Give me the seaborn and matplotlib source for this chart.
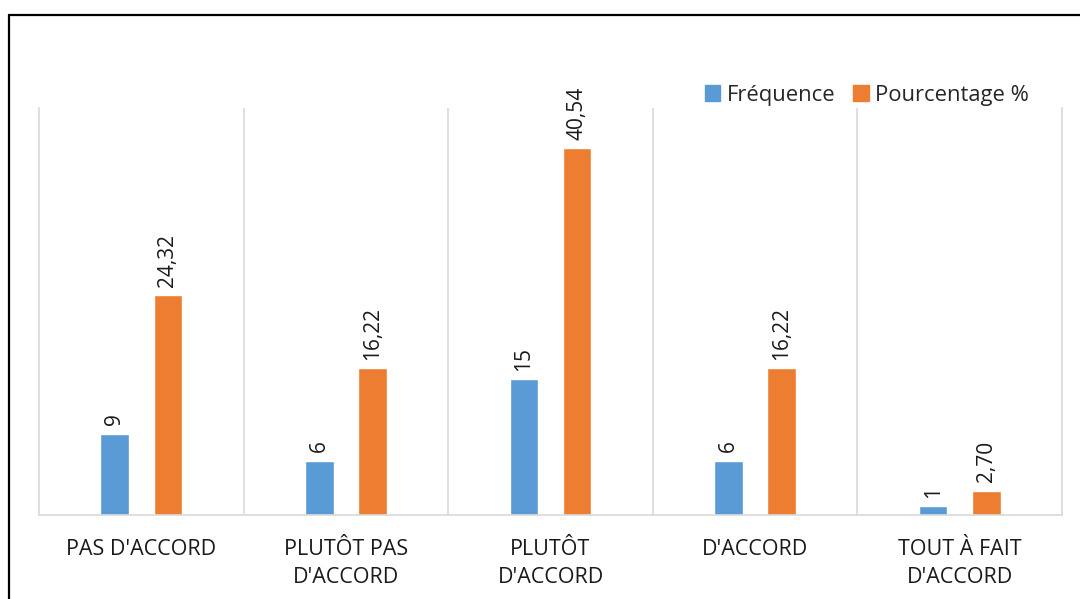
import matplotlib

matplotlib.use("Agg")
import matplotlib.pyplot as plt
import pandas as pd
import seaborn as sns
from matplotlib.lines import Line2D

categories = ["PAS D'ACCORD", "PLUTÔT PAS\nD'ACCORD", "PLUTÔT\nD'ACCORD", "D'ACCORD", "TOUT À FAIT\nD'ACCORD"]
frequence = [9, 6, 15, 6, 1]
pourcentage = [24.32, 16.22, 40.54, 16.22, 2.70]
series = ["Fréquence", "Pourcentage %"]
colors = ["#5B9BD5", "#ED7D31"]

df = pd.DataFrame({
    "categorie": categories * 2,
    "serie": [series[0]] * len(categories) + [series[1]] * len(categories),
    "valeur": frequence + pourcentage,
})

sns.set_style("white")
plt.rcParams["font.family"] = ["Open Sans", "DejaVu Sans"]

fig = plt.figure(figsize=(10.8, 5.99), dpi=100)
ax = fig.add_axes([39 / 1080, 84 / 599, 1023 / 1080, 407 / 599])

sns.barplot(
    data=df, x="categorie", y="valeur", hue="serie", order=categories,
    hue_order=series, palette=colors, saturation=1, width=0.52, gap=0.46, ax=ax,
)

ax.set_xlim(-0.5, len(categories) - 0.5)
ax.set_ylim(0, 45)
ax.set_yticks([])
ax.set_xlabel("")
ax.set_ylabel("")
ax.set_xticks(range(len(categories)))
ax.set_xticklabels(categories, fontsize=15.5, color="#1a1a1a", linespacing=1.45)
ax.tick_params(axis="x", length=0, pad=17)

for x in range(1, len(categories)):
    ax.axvline(x - 0.5, color="#D9D9D9", lw=1.2, zorder=0)
for side in ["left", "right", "bottom"]:
    ax.spines[side].set_color("#D9D9D9")
    ax.spines[side].set_linewidth(1.2)
ax.spines["top"].set_visible(False)

ax.bar_label(ax.containers[0], labels=[f"{v:.0f}" for v in frequence],
             rotation=90, padding=6, fontsize=15, color="#1a1a1a")
ax.bar_label(ax.containers[1], labels=[f"{v:.2f}".replace(".", ",") for v in pourcentage],
             rotation=90, padding=6, fontsize=15, color="#1a1a1a")

ax.get_legend().remove()
handles = [plt.Rectangle((0, 0), 1, 1, color=c) for c in colors]
fig.legend(handles, series, loc="center right", bbox_to_anchor=(1040 / 1080, 1 - 95 / 599),
           ncol=2, frameon=False, fontsize=15.8, handlelength=0.7, handleheight=0.7,
           handletextpad=0.3, columnspacing=0.8, borderpad=0)

# cadre noir (haut et gauche)
fig.add_artist(Line2D([9 / 1080, 1], [1 - 15 / 599, 1 - 15 / 599], color="black", lw=1.6))
fig.add_artist(Line2D([9 / 1080, 9 / 1080], [0, 1 - 15 / 599], color="black", lw=1.6))

fig.savefig("out.png", dpi=100)
